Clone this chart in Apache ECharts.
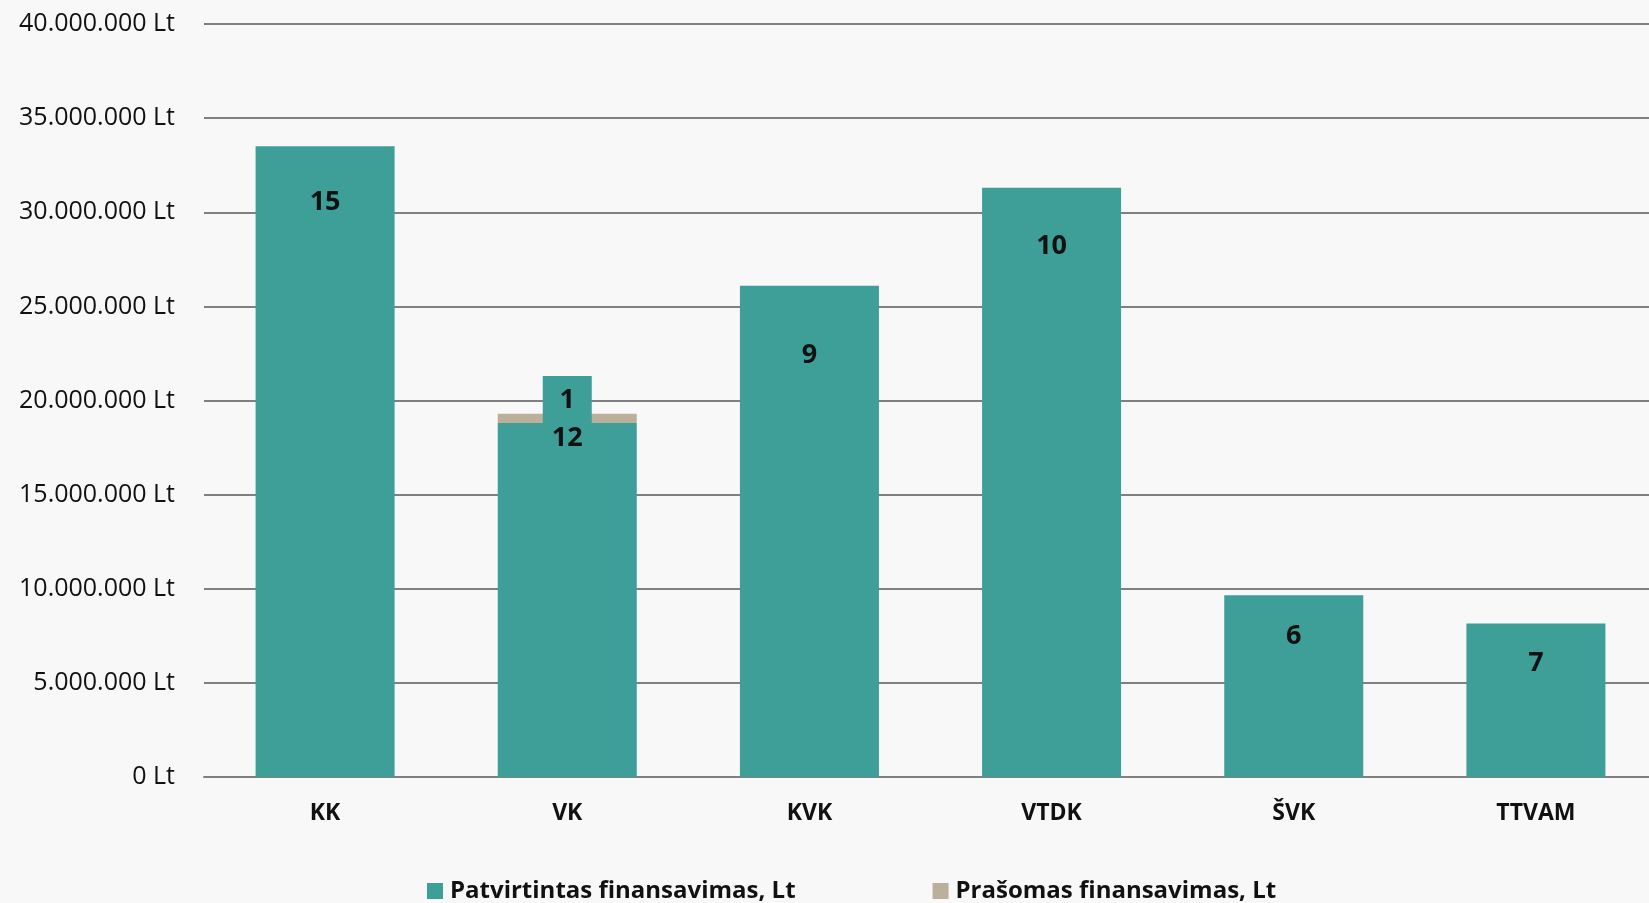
<!DOCTYPE html>
<html>
<head>
<meta charset="utf-8">
<script src="https://cdn.jsdelivr.net/npm/echarts@6/dist/echarts.min.js"></script>
<style>
  html, body { margin: 0; padding: 0; background: #f8f8f8; }
  #chart { width: 1649px; height: 903px; }
</style>
</head>
<body>
<div id="chart"></div>
<script>
// kategorijos ir reikšmės (Lt)
const categories = ['KK', 'VK', 'KVK', 'VTDK', 'ŠVK', 'TTVAM'];
const approved = [33500000, 18800000, 26100000, 31300000, 9650000, 8150000];
const requested = [0, 500000, 0, 0, 0, 0];
const approvedCounts = [15, 12, 9, 10, 6, 7];
// VK: vienas papildomas projektas (siauras stulpelis)
const extraApproved = [null, 21300000, null, null, null, null];
const extraCounts = [null, 1, null, null, null, null];
const yTicks = [0, 5000000, 10000000, 15000000, 20000000, 25000000, 30000000, 35000000, 40000000];

// label depth below bar top (px), as in the original
const labelDist = [42, 2, 56, 45, 27, 26];

const TEAL = '#3d9f98';
const BEIGE = '#bcb09c';
const FONT = '"Open Sans", sans-serif';

function fmtLt(v) {
  return String(v).replace(/\B(?=(\d{3})+(?!\d))/g, '.') + ' Lt';
}

const chart = echarts.init(document.getElementById('chart'));

const option = {
  backgroundColor: '#f8f8f8',
  animation: false,
  grid: { left: 204, width: 1453, top: 24, bottom: 126, containLabel: false, outerBoundsMode: 'none' },
  legend: {
    data: ['Patvirtintas finansavimas, Lt', 'Prašomas finansavimas, Lt'],
    left: 422,
    top: 874,
    itemWidth: 16,
    itemHeight: 16,
    itemGap: 137,
    icon: 'rect',
    textStyle: { fontFamily: FONT, fontWeight: 'bold', fontSize: 24, color: '#111', padding: [0, 0, 0, 2] }
  },
  xAxis: [
    {
      type: 'category',
      data: categories,
      axisTick: { show: false },
      axisLine: { lineStyle: { color: '#808080', width: 2 } },
      axisLabel: { fontFamily: FONT, fontWeight: 'bold', fontSize: 23, color: '#111', margin: 25 }
    },
    {
      type: 'category',
      data: categories,
      show: false
    }
  ],
  yAxis: {
    type: 'value',
    min: yTicks[0],
    max: yTicks[yTicks.length - 1],
    interval: 5000000,
    axisLine: { show: false },
    axisTick: { show: false },
    splitLine: { lineStyle: { color: '#808080', width: 2 } },
    axisLabel: {
      fontFamily: FONT, fontSize: 25, color: '#111', margin: 29,
      formatter: v => fmtLt(v)
    }
  },
  series: [
    {
      name: 'Patvirtintas finansavimas, Lt',
      type: 'bar',
      stack: 'a',
      xAxisIndex: 0,
      barWidth: 139,
      itemStyle: { color: TEAL },
      data: approved.map((v, i) => ({
        value: v,
        label: {
          show: true,
          position: 'insideTop',
          distance: labelDist[i],
          formatter: String(approvedCounts[i])
        }
      })),
      label: { fontFamily: FONT, fontWeight: 'bold', fontSize: 27, color: '#111' },
      z: 4
    },
    {
      name: 'Prašomas finansavimas, Lt',
      type: 'bar',
      stack: 'a',
      xAxisIndex: 0,
      barWidth: 139,
      itemStyle: { color: BEIGE },
      data: requested,
      z: 2
    },
    {
      name: 'Patvirtintas (papildomai)',
      type: 'bar',
      xAxisIndex: 1,
      barWidth: 49,
      itemStyle: { color: TEAL },
      data: extraApproved,
      label: {
        show: true,
        position: 'insideTop',
        distance: 11,
        fontFamily: FONT, fontWeight: 'bold', fontSize: 27, color: '#111',
        formatter: p => extraCounts[p.dataIndex] == null ? '' : String(extraCounts[p.dataIndex])
      },
      z: 3
    }
  ]
};

chart.setOption(option);
</script>
</body>
</html>
